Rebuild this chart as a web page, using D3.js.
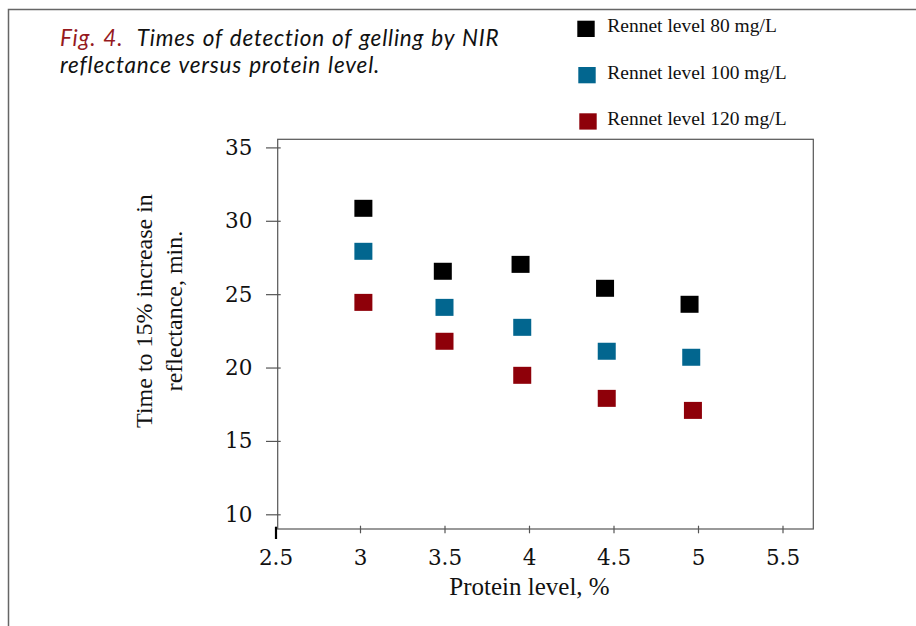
<!DOCTYPE html>
<html>
<head>
<meta charset="utf-8">
<script src="https://cdn.jsdelivr.net/npm/d3@7"></script>
<style>
  body { margin: 0; background: #fff; }
</style>
</head>
<body>
<div id="chart"></div>
<script>
// data
const proteinTicks = [2.5, 3, 3.5, 4, 4.5, 5, 5.5];
const timeTicks = [10, 15, 20, 25, 30, 35];
const seriesNames = ["Rennet level 80 mg/L", "Rennet level 100 mg/L", "Rennet level 120 mg/L"];
const protein80 = [3.02, 3.49, 3.95, 4.45, 4.95];
const time80 = [30.85, 26.56, 27.03, 25.4, 24.31];
const protein100 = [3.02, 3.5, 3.96, 4.46, 4.96];
const time100 = [27.92, 24.1, 22.74, 21.11, 20.7];
const protein120 = [3.02, 3.5, 3.96, 4.46, 4.97];
const time120 = [24.44, 21.79, 19.47, 17.9, 17.08];

const colors = ["#000000", "#02668f", "#8e0009"];
const serif = "'Liberation Serif', 'Times New Roman', serif";
const tickFont = "'DejaVu Serif', serif";
const titleFont = "Lato, 'Open Sans', sans-serif";

const svgWidth = 916;
const svgHeight = 626;
const svg = d3
  .select("#chart")
  .append("svg")
  .attr("width", svgWidth)
  .attr("height", svgHeight);

// outer frame (top and left only)
svg
  .append("path")
  .attr("d", "M8.5,626V9.5H916")
  .attr("fill", "none")
  .attr("stroke", "#666")
  .attr("stroke-width", 1.5);

// title
const title = svg
  .append("text")
  .attr("x", 60)
  .attr("y", 46)
  .attr("font-family", titleFont)
  .attr("font-style", "italic")
  .attr("font-size", 22.5)
  .attr("letter-spacing", 0.8)
  .attr("word-spacing", 1);
title.append("tspan").attr("fill", "#961a1e").text("Fig. 4.");
title
  .append("tspan")
  .attr("dx", 15)
  .attr("fill", "#111")
  .text("Times of detection of gelling by NIR");
title
  .append("tspan")
  .attr("x", 60)
  .attr("dy", 27)
  .attr("fill", "#111")
  .text("reflectance versus protein level.");

// scales
const x = d3.scaleLinear().domain([2.5, 5.5]).range([275.5, 782.5]);
const y = d3.scaleLinear().domain([10, 35]).range([514.3, 147.4]);

// plot box
svg
  .append("rect")
  .attr("x", 277.7)
  .attr("y", 139.3)
  .attr("width", 535.6)
  .attr("height", 389.7)
  .attr("fill", "none")
  .attr("stroke", "#555")
  .attr("stroke-width", 1.2);

// y axis
const yAxis = svg
  .append("g")
  .attr("transform", "translate(280.7,0)")
  .call(d3.axisLeft(y).tickValues(timeTicks).tickSize(14.7).tickPadding(13.7).tickFormat(d3.format("d")));
yAxis.select(".domain").remove();
yAxis.selectAll("line").attr("stroke", "#555").attr("stroke-width", 1.2);
yAxis
  .selectAll("text")
  .attr("font-family", tickFont)
  .attr("font-size", 21.5)
  .attr("fill", "#111");

// x axis
const xAxis = svg
  .append("g")
  .attr("transform", "translate(0,525.7)")
  .call(d3.axisBottom(x).tickValues(proteinTicks).tickSize(7.6).tickPadding(16.5).tickFormat(d3.format("")));
xAxis.select(".domain").remove();
xAxis.selectAll("line").attr("stroke", "#555").attr("stroke-width", 1.2);
xAxis
  .selectAll("text")
  .attr("font-family", tickFont)
  .attr("font-size", 21.5)
  .attr("fill", "#111");
// the first tick is drawn heavier, like the original
xAxis
  .select(".tick line")
  .attr("stroke", "#000")
  .attr("stroke-width", 2.2)
  .attr("y1", 1)
  .attr("y2", 13.3);

// axis titles
svg
  .append("text")
  .attr("x", 529.5)
  .attr("y", 595)
  .attr("text-anchor", "middle")
  .attr("font-family", serif)
  .attr("font-size", 25)
  .attr("fill", "#111")
  .text("Protein level, %");

const yTitle = svg
  .append("text")
  .attr("transform", "translate(0,311) rotate(-90)")
  .attr("text-anchor", "middle")
  .attr("font-family", serif)
  .attr("font-size", 24)
  .attr("fill", "#111");
yTitle.append("tspan").attr("x", 0).attr("y", 152).text("Time to 15% increase in");
yTitle.append("tspan").attr("x", 0).attr("y", 182).text("reflectance, min.");

// markers
const series = [
  { xs: protein80, ys: time80 },
  { xs: protein100, ys: time100 },
  { xs: protein120, ys: time120 },
];
const markW = 18;
const markH = 17;
series.forEach((s, k) => {
  svg
    .append("g")
    .selectAll("rect")
    .data(s.ys)
    .enter()
    .append("rect")
    .attr("x", (d, i) => x(s.xs[i]) - markW / 2)
    .attr("y", (d) => y(d) - markH / 2)
    .attr("width", markW)
    .attr("height", markH)
    .attr("fill", colors[k]);
});

// legend
const legend = svg
  .append("g")
  .selectAll("g")
  .data(seriesNames)
  .enter()
  .append("g")
  .attr("transform", (d, i) => `translate(${577.3 + i},${20.7 + 46.3 * i})`);
legend
  .append("rect")
  .attr("width", 17.4)
  .attr("height", 16.3)
  .attr("fill", (d, i) => colors[i]);
legend
  .append("text")
  .attr("x", (d, i) => 30 - i)
  .attr("y", 11.6)
  .attr("font-family", serif)
  .attr("font-size", 19.5)
  .attr("fill", "#111")
  .text((d) => d);
</script>
</body>
</html>
